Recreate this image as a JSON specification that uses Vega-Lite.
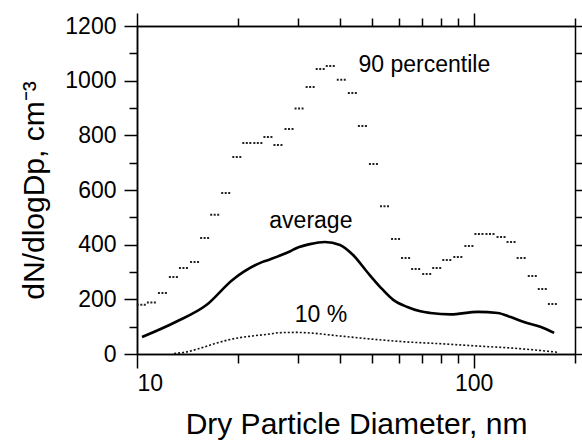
{
  "$schema": "https://vega.github.io/schema/vega-lite/v6.json",
  "width": 438,
  "height": 328,
  "autosize": {"type": "none"},
  "padding": {"left": 137, "top": 26, "right": 7, "bottom": 89},
  "config": {
    "view": {"stroke": null},
    "font": "Liberation Sans",
    "axis": {
      "grid": false,
      "domainColor": "#000",
      "domainWidth": 1.5,
      "tickColor": "#000",
      "tickWidth": 1.5,
      "labelColor": "#000",
      "titleColor": "#000",
      "labelFont": "Liberation Sans",
      "titleFont": "Liberation Sans",
      "labelFontWeight": "normal",
      "titleFontWeight": "normal"
    }
  },
  "datasets": {
    "p90": [
      {"d": 10.35, "v": 180}, {"d": 11.09, "v": 188}, {"d": 11.96, "v": 223}, {"d": 12.89, "v": 282},
      {"d": 13.81, "v": 315}, {"d": 14.90, "v": 337}, {"d": 15.96, "v": 424}, {"d": 17.10, "v": 509},
      {"d": 18.44, "v": 589}, {"d": 19.89, "v": 721}, {"d": 21.30, "v": 772}, {"d": 22.97, "v": 772},
      {"d": 24.61, "v": 794}, {"d": 26.36, "v": 765}, {"d": 28.43, "v": 823}, {"d": 30.45, "v": 898},
      {"d": 32.85, "v": 977}, {"d": 35.19, "v": 1043}, {"d": 37.69, "v": 1054}, {"d": 40.64, "v": 1003},
      {"d": 43.84, "v": 955}, {"d": 46.96, "v": 834}, {"d": 50.64, "v": 695}, {"d": 54.62, "v": 541},
      {"d": 58.91, "v": 421}, {"d": 63.10, "v": 351}, {"d": 67.59, "v": 311}, {"d": 72.90, "v": 293},
      {"d": 78.07, "v": 315}, {"d": 83.64, "v": 344}, {"d": 90.2, "v": 355}, {"d": 97.3, "v": 395},
      {"d": 104.2, "v": 439}, {"d": 112.4, "v": 439}, {"d": 121.2, "v": 428}, {"d": 129.8, "v": 410},
      {"d": 139.1, "v": 351}, {"d": 150.1, "v": 285}, {"d": 160.7, "v": 238}, {"d": 172.2, "v": 183}
    ],
    "avg": [
      {"d": 10.35, "v": 62}, {"d": 13.07, "v": 118}, {"d": 16.07, "v": 179}, {"d": 19.21, "v": 271},
      {"d": 23.61, "v": 337}, {"d": 24.78, "v": 346}, {"d": 28.43, "v": 375}, {"d": 29.83, "v": 388},
      {"d": 32.62, "v": 402}, {"d": 36.15, "v": 410}, {"d": 40.09, "v": 399}, {"d": 43.84, "v": 362},
      {"d": 48.27, "v": 300}, {"d": 52.77, "v": 245}, {"d": 57.70, "v": 198}, {"d": 63.53, "v": 172},
      {"d": 69.47, "v": 156}, {"d": 74.41, "v": 150}, {"d": 85.37, "v": 145}, {"d": 102.8, "v": 154},
      {"d": 117.9, "v": 150}, {"d": 128.9, "v": 135}, {"d": 141.0, "v": 117}, {"d": 158.5, "v": 99},
      {"d": 173.4, "v": 77}
    ],
    "p10": [
      {"d": 12.89, "v": 2}, {"d": 13.81, "v": 6}, {"d": 15.31, "v": 20}, {"d": 17.22, "v": 40},
      {"d": 19.21, "v": 55}, {"d": 22.04, "v": 66}, {"d": 24.78, "v": 73}, {"d": 26.54, "v": 78},
      {"d": 29.83, "v": 79}, {"d": 32.62, "v": 77}, {"d": 39.26, "v": 67}, {"d": 49.26, "v": 55},
      {"d": 61.80, "v": 45}, {"d": 81.37, "v": 37}, {"d": 102.8, "v": 29}, {"d": 128.9, "v": 22},
      {"d": 151.1, "v": 15}, {"d": 166.3, "v": 10}, {"d": 178.1, "v": 6}
    ],
    "labels": [
      {"d": 71.4, "v": 1032, "label": "90 percentile"},
      {"d": 32.85, "v": 461, "label": "average"},
      {"d": 35.19, "v": 117, "label": "10 %"}
    ]
  },
  "layer": [
    {
      "data": {"name": "p90"},
      "mark": {"type": "point", "shape": "M-1,0H1", "size": 110, "filled": false, "stroke": "#222", "strokeWidth": 2, "strokeDash": [2, 1.5], "opacity": 1},
      "encoding": {
        "x": {
          "field": "d", "type": "quantitative",
          "scale": {"type": "log", "domain": [10, 200], "nice": false},
          "axis": {
            "orient": "bottom", "values": [10, 100], "format": "d", "tickSize": 14,
            "labelFontSize": 23, "labelPadding": 4,
            "title": "Dry Particle Diameter, nm", "titleFontSize": 30,
            "titleY": 79, "titleBaseline": "alphabetic", "titleAnchor": "middle"
          }
        },
        "y": {
          "field": "v", "type": "quantitative",
          "scale": {"domain": [0, 1200], "nice": false, "zero": true},
          "axis": {
            "orient": "left", "values": [0, 200, 400, 600, 800, 1000, 1200], "format": "d", "tickSize": 13,
            "labelFontSize": 23, "labelPadding": 8,
            "title": "dN/dlogDp, cm⁻³", "titleFontSize": 30, "titleAngle": -90,
            "titleX": -94, "titleY": 164, "titleBaseline": "alphabetic", "titleAlign": "center"
          }
        }
      }
    },
    {
      "data": {"name": "avg"},
      "mark": {"type": "line", "color": "#000", "strokeWidth": 2.6, "interpolate": "monotone"},
      "encoding": {
        "x": {
          "field": "d", "type": "quantitative",
          "scale": {"type": "log", "domain": [10, 200], "nice": false},
          "axis": {"orient": "top", "values": [10, 100], "tickSize": 13, "labels": false, "title": null}
        },
        "y": {
          "field": "v", "type": "quantitative",
          "scale": {"domain": [0, 1200], "nice": false},
          "axis": {"orient": "right", "values": [0, 100, 200, 300, 400, 500, 600, 700, 800, 900, 1000, 1100, 1200], "tickSize": 8, "labels": false, "title": null}
        }
      }
    },
    {
      "data": {"name": "p10"},
      "mark": {"type": "line", "color": "#111", "strokeWidth": 1.6, "strokeDash": [2, 2], "interpolate": "monotone"},
      "encoding": {
        "x": {
          "field": "d", "type": "quantitative",
          "scale": {"type": "log", "domain": [10, 200], "nice": false},
          "axis": {"orient": "bottom", "values": [20, 30, 40, 50, 60, 70, 80, 90, 200], "tickSize": 9, "labels": false, "title": null}
        },
        "y": {
          "field": "v", "type": "quantitative",
          "scale": {"domain": [0, 1200], "nice": false},
          "axis": {"orient": "left", "values": [100, 300, 500, 700, 900, 1100], "tickSize": 8, "labels": false, "title": null}
        }
      }
    },
    {
      "data": {"name": "labels"},
      "mark": {"type": "text", "fontSize": 23, "align": "center", "baseline": "alphabetic", "color": "#000", "font": "Liberation Sans"},
      "encoding": {
        "x": {
          "field": "d", "type": "quantitative",
          "scale": {"type": "log", "domain": [10, 200], "nice": false},
          "axis": {"orient": "top", "values": [20, 30, 40, 50, 60, 70, 80, 90, 200], "tickSize": 8, "labels": false, "title": null}
        },
        "y": {
          "field": "v", "type": "quantitative",
          "scale": {"domain": [0, 1200], "nice": false},
          "axis": null
        },
        "text": {"field": "label", "type": "nominal"}
      }
    }
  ],
  "resolve": {"axis": {"x": "independent", "y": "independent"}}
}
